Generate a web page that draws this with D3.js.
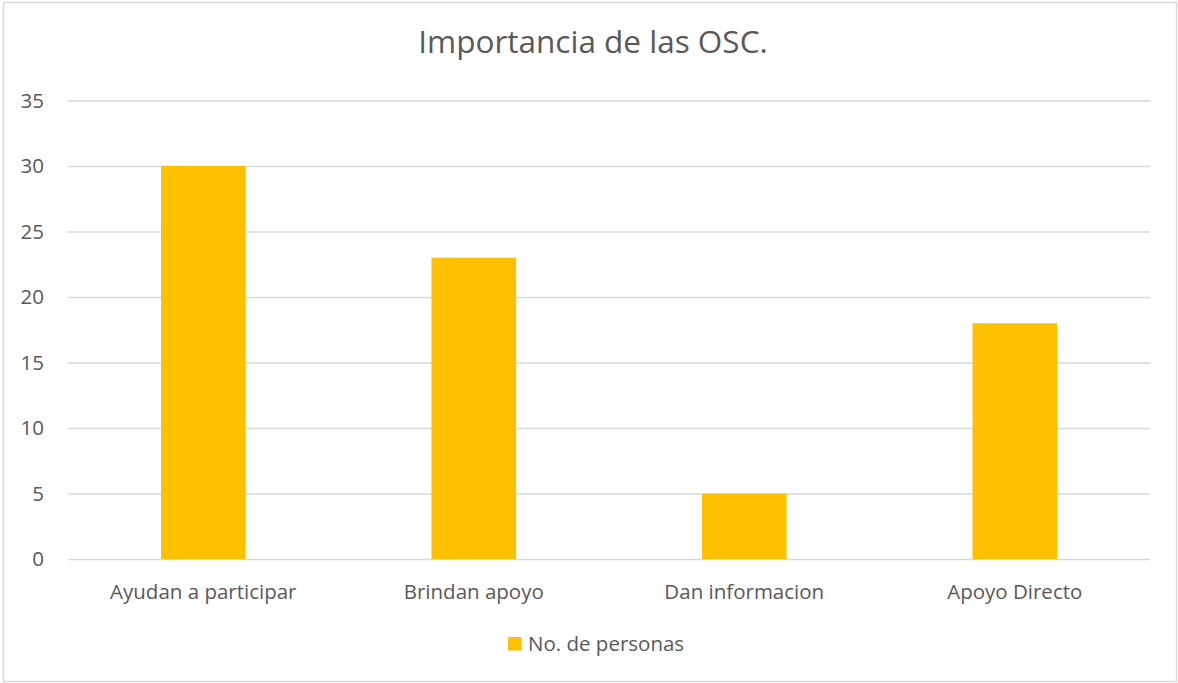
<!DOCTYPE html>
<html>
<head>
<meta charset="utf-8">
<script src="https://cdn.jsdelivr.net/npm/d3@7"></script>
<style>
  body { margin: 0; background: #fff; }
  svg text { font-family: "Open Sans", "Noto Sans", sans-serif; fill: #595959; }
</style>
</head>
<body>
<div id="chart"></div>
<script>
'use strict';

// Data
var categories = ["Ayudan a participar", "Brindan apoyo", "Dan informacion", "Apoyo Directo"];
var values = [30, 23, 5, 18];
var seriesName = "No. de personas";
var yTicks = [0, 5, 10, 15, 20, 25, 30, 35];
var title = "Importancia de las OSC.";

var W = 1178, H = 683;
var margin = {top: 100.5, right: 28, bottom: 124, left: 68},
    width = W - margin.left - margin.right,
    height = H - margin.top - margin.bottom;

var svg = d3.select("#chart").append("svg")
    .attr("width", W)
    .attr("height", H);

// outer border
svg.append("rect")
    .attr("x", 3.5).attr("y", 2.5)
    .attr("width", W - 5).attr("height", H - 4)
    .attr("fill", "#fff")
    .attr("stroke", "#d9d9d9")
    .attr("stroke-width", 1.5);

// title
svg.append("text")
    .attr("x", 593).attr("y", 53)
    .attr("text-anchor", "middle")
    .style("font-size", "31.5px")
    .text(title);

var g = svg.append("g")
    .attr("transform", "translate(" + margin.left + "," + margin.top + ")");

var x = d3.scaleBand()
    .domain(categories)
    .range([0, width])
    .paddingInner(0.6875)
    .paddingOuter(0.34375);

var y = d3.scaleLinear()
    .domain([0, 35])
    .range([height, 0]);

// gridlines
var yAxis = d3.axisLeft(y)
    .tickValues(yTicks)
    .tickSize(-width)
    .tickPadding(24);

g.append("g")
    .attr("class", "y axis")
    .call(yAxis)
    .call(function(ax) {
        ax.select(".domain").remove();
        ax.selectAll("line").attr("stroke", "#d9d9d9").attr("stroke-width", 1.5);
        ax.selectAll("text").style("font-size", "20.5px").attr("fill", "#595959");
    });

// bars
g.selectAll(".bar")
    .data(values)
  .enter().append("rect")
    .attr("class", "bar")
    .attr("x", function(d, i) { return x(categories[i]); })
    .attr("width", x.bandwidth())
    .attr("y", function(d) { return y(d); })
    .attr("height", function(d) { return height - y(d); })
    .attr("fill", "#ffc000");

// category axis
var xAxis = d3.axisBottom(x).tickSize(0).tickPadding(25);
g.append("g")
    .attr("class", "x axis")
    .attr("transform", "translate(0," + height + ")")
    .call(xAxis)
    .call(function(ax) {
        ax.select(".domain").remove();
        ax.selectAll("text").style("font-size", "20.5px").attr("fill", "#595959");
    });

// legend
var legend = svg.append("g").attr("transform", "translate(508,637)");
legend.append("rect")
    .attr("width", 13.5).attr("height", 13.5)
    .attr("fill", "#ffc000");
legend.append("text")
    .attr("x", 20).attr("y", 13.5)
    .style("font-size", "20.5px")
    .text(seriesName);
</script>
</body>
</html>
